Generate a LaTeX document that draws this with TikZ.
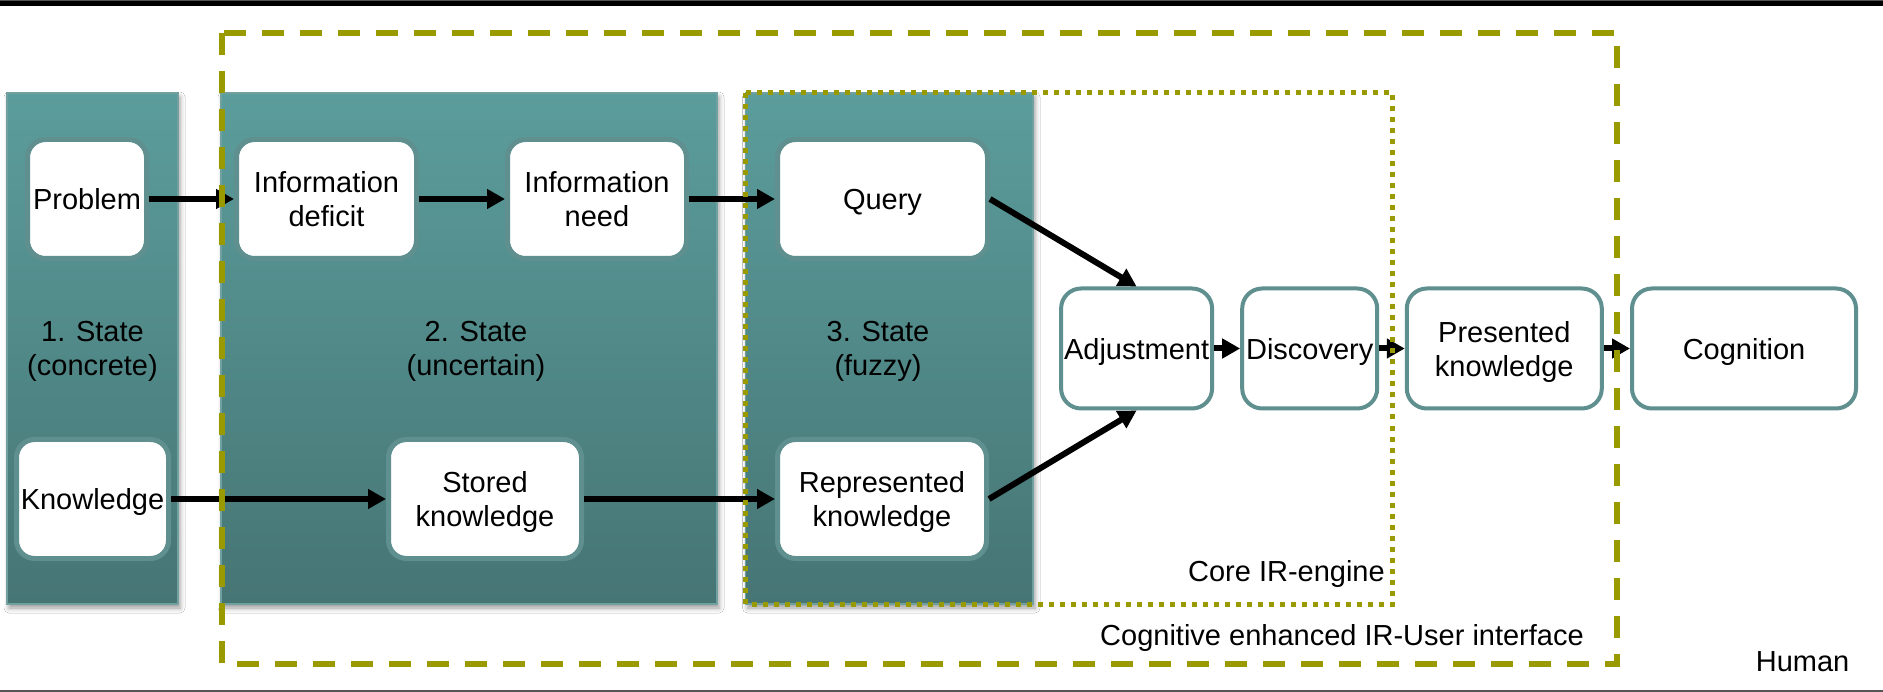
\documentclass[tikz,border=0pt]{standalone}
\usepackage{fontspec}
\setmainfont{Liberation Sans}
\usetikzlibrary{arrows.meta,shadows.blur}

\definecolor{panelTop}{RGB}{91,157,156}
\definecolor{panelBot}{RGB}{70,117,116}
\definecolor{panelEdge}{RGB}{112,160,160}
\definecolor{ringTeal}{RGB}{95,143,142}
\definecolor{olive}{RGB}{153,153,0}
\definecolor{rule}{RGB}{85,85,85}

\tikzset{
  txt/.style={font=\fontsize{29}{34}\selectfont, text=black, align=center},
  panel/.style={top color=panelTop, bottom color=panelBot, draw=panelEdge, line width=1.2pt,
    blur shadow={shadow xshift=2pt, shadow yshift=-4pt, shadow blur radius=5pt, shadow opacity=40}},
  inbox/.style={txt, text depth=0pt, rectangle, rounded corners=18pt, fill=white, draw=ringTeal,
    line width=5pt, minimum height=119pt, inner sep=0pt},
  outbox/.style={txt, text depth=0pt, rectangle, rounded corners=20pt, fill=white, draw=ringTeal,
    line width=4pt, minimum height=120pt, inner sep=0pt},
  flow/.style={draw=black, line width=6pt, -{Triangle[length=18pt,width=19pt]}},
  uiframe/.style={draw=olive, line width=5.5pt, dash pattern=on 22pt off 16pt},
  coreframe/.style={draw=olive, line width=5pt, dash pattern=on 5pt off 6pt},
  lbl/.style={txt, inner sep=0pt},
}

\begin{document}
\begin{tikzpicture}[x=1pt, y=-1pt]
  \useasboundingbox (0,0) rectangle (1883,692);
  \fill[white] (0,0) rectangle (1883,692);

  % page rules
  \fill[rule] (0,0) rectangle (1883,1.5);
  \fill[black] (0,1.5) rectangle (1883,6.5);
  \fill[rule] (0,689.5) rectangle (1883,692);

  % state panels
  \path[panel] (7,93) rectangle (178,604);
  \path[panel] (221,93) rectangle (717,604);
  \path[panel] (745.5,93) rectangle (1033,604);

  % panel captions
  \node[lbl] (st1) at (92.5,351) {1. State\\(concrete)};
  \node[lbl] (st2) at (476,351) {2. State\\(uncertain)};
  \node[lbl] (st3) at (878,351) {3. State\\(fuzzy)};

  % boxes inside the panels
  \node[inbox, minimum width=119pt] (problem) at (87,199) {Problem};
  \node[inbox, minimum width=152pt] (knowledge) at (92.5,499) {Knowledge};
  \node[inbox, minimum width=180pt] (deficit) at (326.5,199) {Information\\deficit};
  \node[inbox, minimum width=179pt] (need) at (597,199) {Information\\need};
  \node[inbox, minimum width=210pt] (query) at (882.5,199) {Query};
  \node[inbox, minimum width=193pt] (stored) at (485,499) {Stored\\knowledge};
  \node[inbox, minimum width=209pt] (repr) at (882,499) {Represented\\knowledge};

  % engine and interface boxes
  \node[outbox, minimum width=151pt] (adjust) at (1136.6,348.5) {Adjustment};
  \node[outbox, minimum width=135pt] (discover) at (1309.7,348.5) {Discovery};
  \node[outbox, minimum width=195pt] (present) at (1504.3,348.5) {Presented\\knowledge};
  \node[outbox, minimum width=224pt] (cognition) at (1744,348.5) {Cognition};

  % flow
  \draw[flow] (problem.east) -- (deficit.west);
  \draw[flow] (deficit.east) -- (need.west);
  \draw[flow] (need.east) -- (query.west);
  \draw[flow] (knowledge.east) -- (stored.west);
  \draw[flow] (stored.east) -- (repr.west);
  \draw[flow] (query.east) -- (adjust.north);
  \draw[flow] (repr.east) -- (adjust.south);
  \draw[flow] (adjust.east) -- (discover.west);
  \draw[flow] (discover.east) -- (present.west);
  \draw[flow] (present.east) -- (cognition.west);

  % frames
  \draw[uiframe] (222,33) rectangle (1617,664);
  \draw[coreframe] (745.5,93) rectangle (1392,604);

  % frame labels
  \node[lbl, anchor=base east] (core) at (1385,581.7) {Core IR-engine};
  \node[lbl, anchor=base east] (ui) at (1584,645.5) {Cognitive enhanced IR-User interface};
  \node[lbl, anchor=base east] (human) at (1849.5,671.7) {Human};
\end{tikzpicture}
\end{document}
